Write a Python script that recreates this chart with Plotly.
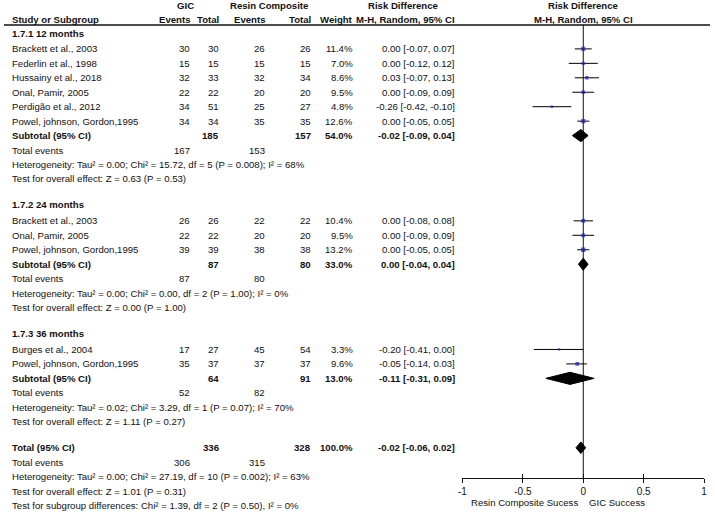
import math
import plotly.graph_objects as go

# ---------------- data ----------------
group_names = ["1.7.1 12 months", "1.7.2 24 months", "1.7.3 36 months"]

study_names = [
    "Brackett et al., 2003", "Federlin et al., 1998", "Hussainy et al., 2018",
    "Onal, Pamir, 2005", "Perdigão et al., 2012", "Powel, johnson, Gordon,1995",
    "Brackett et al., 2003", "Onal, Pamir, 2005", "Powel, johnson, Gordon,1995",
    "Burges et al., 2004", "Powel, johnson, Gordon,1995",
]
study_group = [0, 0, 0, 0, 0, 0, 1, 1, 1, 2, 2]
gic_events = [30, 15, 32, 22, 34, 34, 26, 22, 39, 17, 35]
gic_totals = [30, 15, 33, 22, 51, 34, 26, 22, 39, 27, 37]
rc_events = [26, 15, 32, 20, 25, 35, 22, 20, 38, 45, 37]
rc_totals = [26, 15, 34, 20, 27, 35, 22, 20, 38, 54, 37]
weights = [11.4, 7.0, 8.6, 9.5, 4.8, 12.6, 10.4, 9.5, 13.2, 3.3, 9.6]
rd = [0.00, 0.00, 0.03, 0.00, -0.26, 0.00, 0.00, 0.00, 0.00, -0.20, -0.05]
rd_lo = [-0.07, -0.12, -0.07, -0.09, -0.42, -0.05, -0.08, -0.09, -0.05, -0.41, -0.14]
rd_hi = [0.07, 0.12, 0.13, 0.09, -0.10, 0.05, 0.08, 0.09, 0.05, 0.00, 0.03]

sub_gic_total = [185, 87, 64]
sub_rc_total = [157, 80, 91]
sub_weight = [54.0, 33.0, 13.0]
sub_rd = [-0.02, 0.00, -0.11]
sub_lo = [-0.09, -0.04, -0.31]
sub_hi = [0.04, 0.04, 0.09]
sub_gic_events = [167, 87, 52]
sub_rc_events = [153, 80, 82]
sub_tau2 = [0.00, 0.00, 0.02]
sub_chi2 = [15.72, 0.00, 3.29]
sub_df = [5, 2, 1]
sub_p_het = ["0.008", "1.00", "0.07"]
sub_i2 = [68, 0, 70]
sub_z = [0.63, 0.00, 1.11]
sub_p_z = ["0.53", "1.00", "0.27"]

tot_gic_total = 336
tot_rc_total = 328
tot_weight = 100.0
tot_rd = -0.02
tot_lo = -0.06
tot_hi = 0.02
tot_gic_events = 306
tot_rc_events = 315
tot_tau2 = 0.00
tot_chi2 = 27.19
tot_df = 10
tot_p_het = "0.002"
tot_i2 = 63
tot_z = 1.01
tot_p_z = "0.31"
subdiff_chi2 = 1.39
subdiff_df = 2
subdiff_p = "0.50"
subdiff_i2 = 0

tick_vals = [-1, -0.5, 0, 0.5, 1]
tick_text = ["-1", "-0.5", "0", "0.5", "1"]
left_label = "Resin Composite Sucess"
right_label = "GIC Success"

# ---------------- layout constants ----------------
W, H = 715, 515
ORIGIN, STEP = 33.0, 14.45          # pixel of first row, pixel per row unit
FONT = dict(family="Liberation Sans, Arial, sans-serif", size=9.6, color="#111111")
X_STUDY, X_GIC_EV, X_GIC_TOT, X_RC_EV, X_RC_TOT, X_W, X_CI = 8, 188, 217, 264, 310, 352, 455
X_CI_LEFT = 368
AXIS_PX = 478
DIAMOND_H = 0.42


def u_of_px(p):
    return (p - ORIGIN) / STEP


# row layout (in row units)
header_u, study_u, sub_u, te_u, het_u, test_u = [], [], [], [], [], []
u = 0.0
for g in range(len(group_names)):
    header_u.append(u)
    u += 1.1
    for i, sg in enumerate(study_group):
        if sg == g:
            study_u.append(u)
            u += 1
    sub_u.append(u); u += 1
    te_u.append(u); u += 1
    het_u.append(u); u += 1
    test_u.append(u); u += 1.8
total_u = u
total_te_u = u + 1
total_het_u = u + 2
total_test_u = u + 3
subdiff_u = u + 4

fig = go.Figure()

# CI lines
cx, cy = [], []
for lo, hi, yy in zip(rd_lo, rd_hi, study_u):
    cx += [lo, hi, None]
    cy += [yy, yy, None]
fig.add_trace(go.Scatter(x=cx, y=cy, mode="lines", line=dict(color="#000000", width=1),
                         hoverinfo="skip", showlegend=False))
# squares
fig.add_trace(go.Scatter(x=rd, y=study_u, mode="markers",
                         marker=dict(symbol="square", size=[math.sqrt(w) * 1.2 for w in weights],
                                     color="#1c1cc4", line=dict(width=0)),
                         hoverinfo="skip", showlegend=False))


# diamonds
def diamond(est, lo, hi, yy, h=DIAMOND_H):
    fig.add_trace(go.Scatter(x=[lo, est, hi, est, lo], y=[yy, yy - h, yy, yy + h, yy],
                             mode="lines", fill="toself", fillcolor="black",
                             line=dict(color="black", width=1),
                             hoverinfo="skip", showlegend=False))


for g in range(len(group_names)):
    diamond(sub_rd[g], sub_lo[g], sub_hi[g], sub_u[g])
diamond(tot_rd, tot_lo, tot_hi, total_u, 0.4)

# dummy trace for inside-tick axis
fig.add_trace(go.Scatter(x=[None], y=[None], xaxis="x2", yaxis="y", showlegend=False, hoverinfo="skip"))


def txt(xpx, yy, s, anchor="left", bold=False, font=None):
    fig.add_annotation(x=xpx / W, xref="paper", y=yy, yref="y",
                       text=("<b>%s</b>" % s) if bold else s,
                       xanchor=anchor, yanchor="middle", showarrow=False,
                       font=font or FONT, borderpad=0, borderwidth=0)


# headers
h1 = u_of_px(5.5)
h2 = u_of_px(19.5)
txt(183, h1, "GIC", "center", True)
txt(268, h1, "Resin Composite", "center", True)
txt(X_CI_LEFT, h1, "Risk Difference", "left", True)
fig.add_annotation(x=0, xref="x", y=h1, yref="y", text="<b>Risk Difference</b>", showarrow=False,
                   xanchor="center", yanchor="middle", font=FONT, borderpad=0, borderwidth=0)
txt(X_STUDY, h2, "Study or Subgroup", "left", True)
txt(X_GIC_EV, h2, "Events", "right", True)
txt(X_GIC_TOT, h2, "Total", "right", True)
txt(X_RC_EV, h2, "Events", "right", True)
txt(X_RC_TOT, h2, "Total", "right", True)
txt(X_W, h2, "Weight", "right", True)
txt(X_CI, h2, "M-H, Random, 95% CI", "right", True)
fig.add_annotation(x=0, xref="x", y=h2, yref="y", text="<b>M-H, Random, 95% CI</b>", showarrow=False,
                   xanchor="center", yanchor="middle", font=FONT, borderpad=0, borderwidth=0)


def ci_text(e, lo, hi):
    return "%.2f [%.2f, %.2f]" % (e, lo, hi)


for g in range(len(group_names)):
    txt(X_STUDY, header_u[g], group_names[g], "left", True)
    txt(X_STUDY, sub_u[g], "Subtotal (95% CI)", "left", True)
    txt(X_GIC_TOT, sub_u[g], str(sub_gic_total[g]), "right", True)
    txt(X_RC_TOT, sub_u[g], str(sub_rc_total[g]), "right", True)
    txt(X_W, sub_u[g], "%.1f%%" % sub_weight[g], "right", True)
    txt(X_CI, sub_u[g], ci_text(sub_rd[g], sub_lo[g], sub_hi[g]), "right", True)
    txt(X_STUDY, te_u[g], "Total events", "left")
    txt(X_GIC_EV, te_u[g], str(sub_gic_events[g]), "right")
    txt(X_RC_EV, te_u[g], str(sub_rc_events[g]), "right")
    txt(X_STUDY, het_u[g], "Heterogeneity: Tau² = %.2f; Chi² = %.2f, df = %d (P = %s); I² = %d%%"
        % (sub_tau2[g], sub_chi2[g], sub_df[g], sub_p_het[g], sub_i2[g]), "left")
    txt(X_STUDY, test_u[g], "Test for overall effect: Z = %.2f (P = %s)" % (sub_z[g], sub_p_z[g]), "left")

for i, name in enumerate(study_names):
    yy = study_u[i]
    txt(X_STUDY, yy, name, "left")
    txt(X_GIC_EV, yy, str(gic_events[i]), "right")
    txt(X_GIC_TOT, yy, str(gic_totals[i]), "right")
    txt(X_RC_EV, yy, str(rc_events[i]), "right")
    txt(X_RC_TOT, yy, str(rc_totals[i]), "right")
    txt(X_W, yy, "%.1f%%" % weights[i], "right")
    txt(X_CI, yy, ci_text(rd[i], rd_lo[i], rd_hi[i]), "right")

txt(X_STUDY, total_u, "Total (95% CI)", "left", True)
txt(X_GIC_TOT, total_u, str(tot_gic_total), "right", True)
txt(X_RC_TOT, total_u, str(tot_rc_total), "right", True)
txt(X_W, total_u, "%.1f%%" % tot_weight, "right", True)
txt(X_CI, total_u, ci_text(tot_rd, tot_lo, tot_hi), "right", True)
txt(X_STUDY, total_te_u, "Total events", "left")
txt(X_GIC_EV, total_te_u, str(tot_gic_events), "right")
txt(X_RC_EV, total_te_u, str(tot_rc_events), "right")
txt(X_STUDY, total_het_u, "Heterogeneity: Tau² = %.2f; Chi² = %.2f, df = %d (P = %s); I² = %d%%"
    % (tot_tau2, tot_chi2, tot_df, tot_p_het, tot_i2), "left")
txt(X_STUDY, total_test_u, "Test for overall effect: Z = %.2f (P = %s)" % (tot_z, tot_p_z), "left")
txt(X_STUDY, subdiff_u, "Test for subgroup differences: Chi² = %.2f, df = %d (P = %s), I² = %d%%"
    % (subdiff_chi2, subdiff_df, subdiff_p, subdiff_i2), "left")

# axis direction labels
lab_y = 1 - 502 / H
fig.add_annotation(x=-0.04, xref="x", y=lab_y, yref="paper", text=left_label, showarrow=False,
                   xanchor="right", yanchor="middle", font=FONT, borderpad=0, borderwidth=0)
fig.add_annotation(x=0.05, xref="x", y=lab_y, yref="paper", text=right_label, showarrow=False,
                   xanchor="left", yanchor="middle", font=FONT, borderpad=0, borderwidth=0)

# header rule and zero line
line_u = u_of_px(25)
axis_u = u_of_px(AXIS_PX)
fig.add_shape(type="line", xref="paper", yref="y", x0=0, x1=713 / W, y0=line_u, y1=line_u,
              line=dict(color="#111111", width=1.3))
fig.add_shape(type="line", xref="x", yref="y", x0=0, x1=0, y0=line_u, y1=axis_u,
              line=dict(color="#111111", width=1), layer="below")

dom = [463 / W, 707 / W]
pos = 1 - AXIS_PX / H
fig.update_layout(
    width=W, height=H, autosize=False,
    margin=dict(l=0, r=0, t=0, b=0, pad=0),
    paper_bgcolor="white", plot_bgcolor="white",
    showlegend=False,
    xaxis=dict(domain=dom, range=[-1, 1], anchor="free", position=pos,
               tickvals=tick_vals, ticktext=tick_text, ticks="outside", ticklen=4,
               tickcolor="#111111", showline=True, linecolor="#111111", linewidth=1,
               showgrid=False, zeroline=False, fixedrange=True,
               tickfont=dict(family=FONT["family"], size=10, color="#111111")),
    xaxis2=dict(overlaying="x", range=[-1, 1], anchor="free", position=pos,
                tickvals=tick_vals, ticks="inside", ticklen=4, tickcolor="#111111",
                showticklabels=False, showline=False, showgrid=False, zeroline=False,
                fixedrange=True),
    yaxis=dict(domain=[0, 1], range=[u_of_px(H), u_of_px(0)], visible=False,
               anchor="free", position=0, fixedrange=True),
)

fig.write_html("out.html", config={"displayModeBar": False},
               post_script="document.body.style.margin='0';document.body.style.overflow='hidden';")
